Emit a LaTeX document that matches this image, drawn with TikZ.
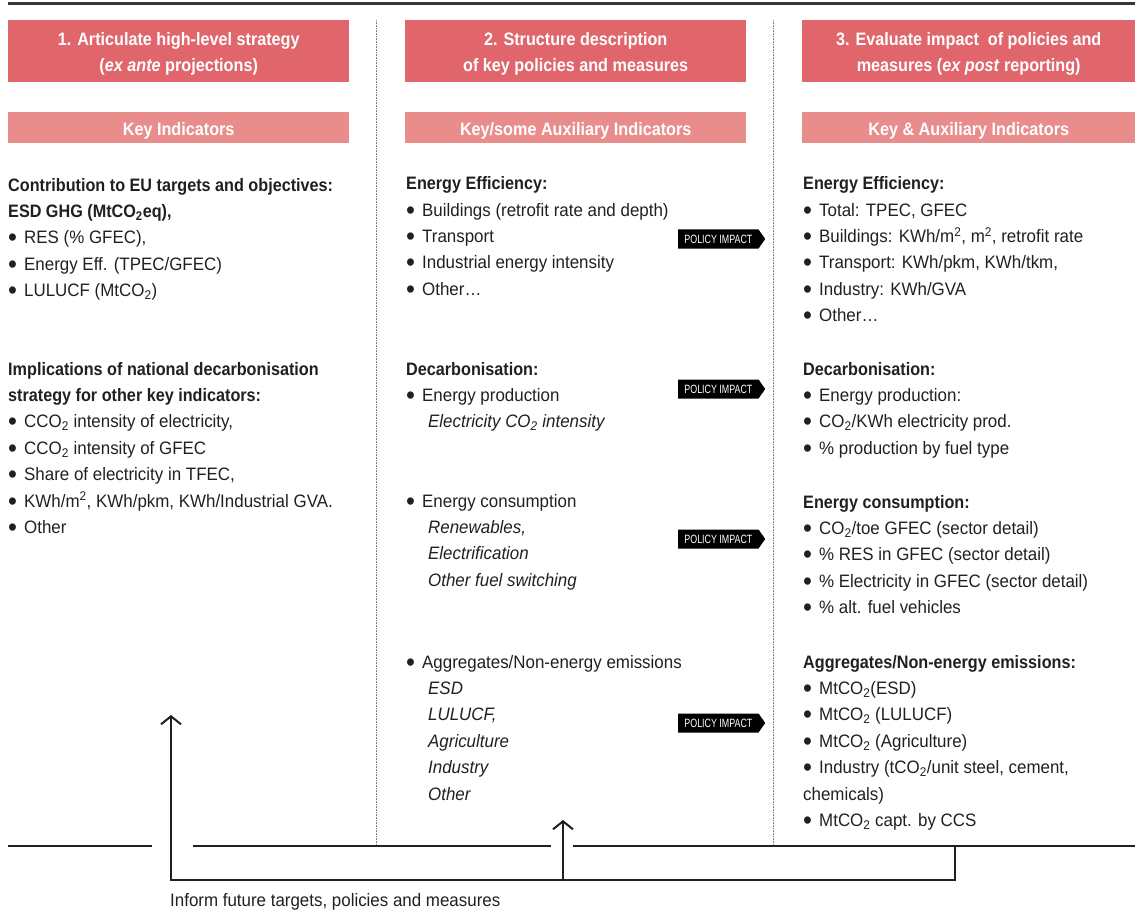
\documentclass[tikz,border=0pt]{standalone}
\usepackage{fontspec}
\setmainfont{Liberation Sans}[
  UprightFeatures={FakeStretch=0.94},
  ItalicFeatures={FakeStretch=0.94},
  BoldFeatures={FakeStretch=0.9},
  BoldItalicFeatures={FakeStretch=0.9}]
\newfontfamily\tagfont{Liberation Sans}[FakeStretch=0.74]
\usetikzlibrary{positioning,shapes.symbols,arrows.meta}

\definecolor{hdred}{HTML}{E0666B}
\definecolor{subred}{HTML}{E88D8C}
\definecolor{ink}{HTML}{231F20}

\newcommand{\bul}{\makebox[16pt][l]{\raisebox{-3pt}{\fontsize{27}{27}\selectfont•}}}

\tikzset{
  head/.style={fill=hdred,text=white,font=\fontsize{18}{26}\selectfont\bfseries,
    align=center,minimum height=62pt,inner sep=0pt,anchor=north west},
  subhead/.style={fill=subred,text=white,font=\fontsize{18}{26}\selectfont\bfseries,
    minimum height=31pt,inner sep=0pt,anchor=north west},
  block/.style={text=ink,font=\fontsize{18}{26.4}\selectfont,align=left,
    inner sep=0pt,anchor=north west},
  impact/.style={shape=signal,signal to=east,signal pointer angle=110,fill=black,
    text=white,font=\tagfont\fontsize{12}{12}\selectfont,minimum width=87pt,
    minimum height=19pt,inner sep=0pt,anchor=west},
  link/.style={draw=ink,line width=2pt},
  divider/.style={draw=gray,line width=0.8pt,dash pattern=on 0.8pt off 0.8pt},
}

\begin{document}
\begin{tikzpicture}[x=1pt,y=-1pt]
   \useasboundingbox (0,0) rectangle (1135,912);
   \draw[line width=3pt,draw=ink!90] (8,4) -- (1135,4);
   \draw[divider] (376,20) -- (376,846);
   \draw[divider] (773,20) -- (773,846);
   % headers
   \node[head,minimum width=341pt] (h1) at (8,20) {\rule{0pt}{19pt}1. Articulate high-level strategy\\(\textit{ex ante} projections)};
   \node[head,minimum width=341pt] (h2) at (405,20) {\rule{0pt}{19pt}2. Structure description\\of key policies and measures};
   \node[head,minimum width=333pt] (h3) at (802,20) {\rule{0pt}{19pt}3. Evaluate impact\ \ of policies and\\measures (\textit{ex post} reporting)};
   \node[subhead,minimum width=341pt] (k1) at (8,112) {\rule{0pt}{19pt}Key Indicators};
   \node[subhead,minimum width=341pt] (k2) at (405,112) {\rule{0pt}{19pt}Key/some Auxiliary Indicators};
   \node[subhead,minimum width=333pt] (k3) at (802,112) {\rule{0pt}{19pt}Key \& Auxiliary Indicators};
   % column 1
   \node[block] (eu) at (8,172.5) {\strut\textbf{Contribution to EU targets and objectives:}\\
      \textbf{ESD GHG (MtCO\textsubscript{2}eq),}\\
      \bul RES (\% GFEC),\\
      \bul Energy Eff. (TPEC/GFEC)\\
      \bul LULUCF (MtCO\textsubscript{2})};
   \node[block] (impl) at (8,356.5) {\strut\textbf{Implications of national decarbonisation}\\
      \textbf{strategy for other key indicators:}\\
      \bul CCO\textsubscript{2} intensity of electricity,\\
      \bul CCO\textsubscript{2} intensity of GFEC\\
      \bul Share of electricity in TFEC,\\
      \bul KWh/m\textsuperscript{2}, KWh/pkm, KWh/Industrial GVA.\\
      \bul Other};
   % column 2
   \node[block] (ee2) at (406,171) {\strut\textbf{Energy Efficiency:}\\
      \bul Buildings (retrofit rate and depth)\\
      \bul Transport\\
      \bul Industrial energy intensity\\
      \bul Other…};
   \node[block] (dc2) at (406,356.5) {\strut\textbf{Decarbonisation:}\\
      \bul Energy production\\
      \hspace*{22pt}\textit{Electricity CO\textsubscript{2} intensity}};
   \node[block] (ec2) at (406,488.5) {\strut\bul Energy consumption\\
      \hspace*{22pt}\textit{Renewables,}\\
      \hspace*{22pt}\textit{Electrification}\\
      \hspace*{22pt}\textit{Other fuel switching}};
   \node[block] (ag2) at (406,649.5) {\strut\bul Aggregates/Non-energy emissions\\
      \hspace*{22pt}\textit{ESD}\\
      \hspace*{22pt}\textit{LULUCF,}\\
      \hspace*{22pt}\textit{Agriculture}\\
      \hspace*{22pt}\textit{Industry}\\
      \hspace*{22pt}\textit{Other}};
   % column 3
   \node[block] (ee3) at (803,171) {\strut\textbf{Energy Efficiency:}\\
      \bul Total: TPEC, GFEC\\
      \bul Buildings: KWh/m\textsuperscript{2}, m\textsuperscript{2}, retrofit rate\\
      \bul Transport: KWh/pkm, KWh/tkm,\\
      \bul Industry: KWh/GVA\\
      \bul Other…};
   \node[block] (dc3) at (803,356.5) {\strut\textbf{Decarbonisation:}\\
      \bul Energy production:\\
      \bul CO\textsubscript{2}/KWh electricity prod.\\
      \bul \% production by fuel type};
   \node[block] (ec3) at (803,489.5) {\strut\textbf{Energy consumption:}\\
      \bul CO\textsubscript{2}/toe GFEC (sector detail)\\
      \bul \% RES in GFEC (sector detail)\\
      \bul \% Electricity in GFEC (sector detail)\\
      \bul \% alt. fuel vehicles};
   \node[block] (ag3) at (803,649.5) {\strut\textbf{Aggregates/Non-energy emissions:}\\
      \bul MtCO\textsubscript{2}(ESD)\\
      \bul MtCO\textsubscript{2} (LULUCF)\\
      \bul MtCO\textsubscript{2} (Agriculture)\\
      \bul Industry (tCO\textsubscript{2}/unit steel, cement,\\
      chemicals)\\
      \bul MtCO\textsubscript{2} capt. by CCS};
   % policy impact tags
   \node[impact] (pi1) at (678,239) {POLICY IMPACT};
   \node[impact] (pi2) at (678,389) {POLICY IMPACT};
   \node[impact] (pi3) at (678,539) {POLICY IMPACT};
   \node[impact] (pi4) at (678,723) {POLICY IMPACT};
   % feedback loop
   \coordinate (r0) at (8,846);
   \coordinate (r1) at (152,846);
   \coordinate (r2) at (193,846);
   \coordinate (r3) at (551,846);
   \coordinate (r4) at (573,846);
   \coordinate (r5) at (1135,846);
   \coordinate (fbtop) at (955,846);
   \coordinate (fbcorner) at (955,880);
   \coordinate (fbleft) at (171,880);
   \coordinate (tip1) at (171,715);
   \coordinate (fbmid) at (563,880);
   \coordinate (tip2) at (563,820);
   \draw[link] (r0) -- (r1) (r2) -- (r3) (r4) -- (r5);
   \draw[link,-{Straight Barb[length=8pt,width=20pt]}] (fbtop) -- (fbcorner) -- (fbleft) -- (tip1);
   \draw[link,-{Straight Barb[length=8pt,width=20pt]}] (fbmid) -- (tip2);
   \node[block,anchor=base west] (inform) at (170,906) {Inform future targets, policies and measures};
\end{tikzpicture}
\end{document}
